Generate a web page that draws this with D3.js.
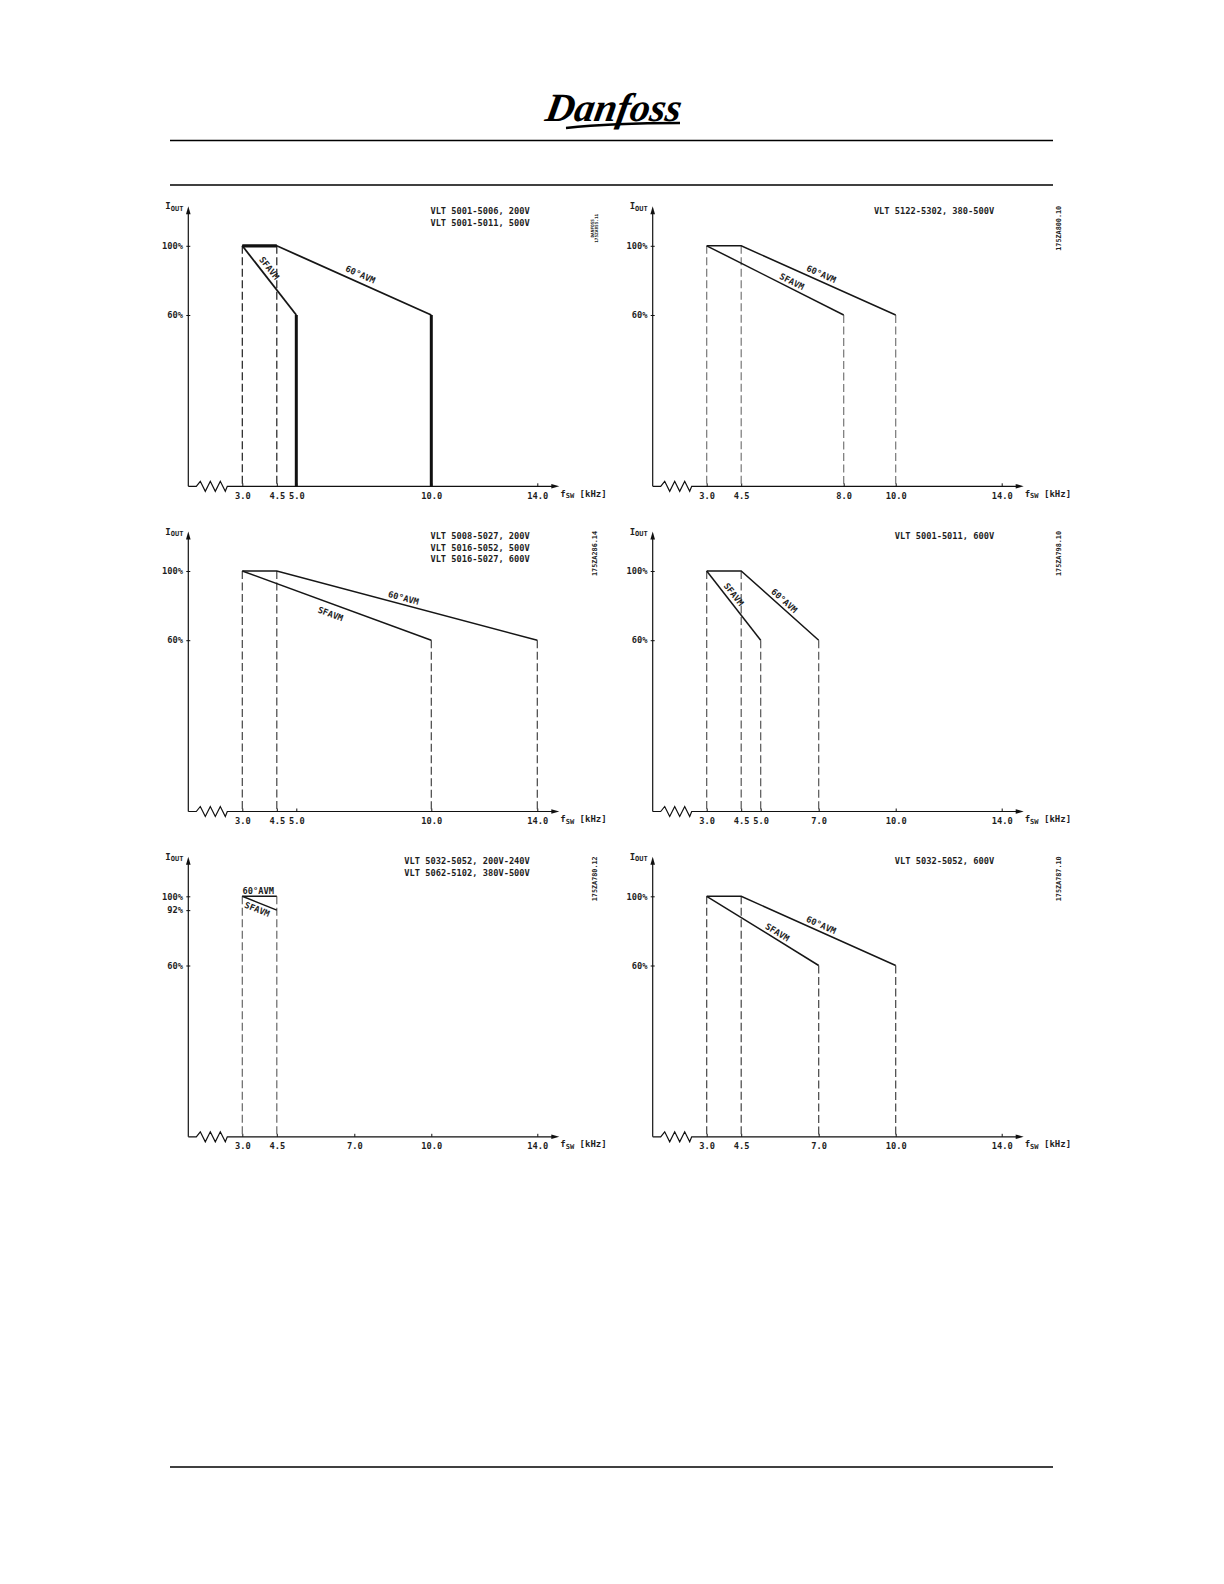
<!DOCTYPE html>
<html><head><meta charset="utf-8">
<script src="https://cdn.jsdelivr.net/npm/d3@7"></script>
<style>
body{margin:0;background:#fff;}
text{font-family:"DejaVu Sans Mono",monospace;fill:#1e1e1e;}
</style></head>
<body>
<script>
// ---------- DATA ----------
const panelTitles = [
  ["VLT 5001-5006, 200V", "VLT 5001-5011, 500V"],
  ["VLT 5122-5302, 380-500V"],
  ["VLT 5008-5027, 200V", "VLT 5016-5052, 500V", "VLT 5016-5027, 600V"],
  ["VLT 5001-5011, 600V"],
  ["VLT 5032-5052, 200V-240V", "VLT 5062-5102, 380V-500V"],
  ["VLT 5032-5052, 600V"]
];
const panelIds = [
  ["DANFOSS", "175ZA855.11"],
  ["175ZA800.10"],
  ["175ZA286.14"],
  ["175ZA798.10"],
  ["175ZA780.12"],
  ["175ZA787.10"]
];
const xTickValues = [
  [3.0, 4.5, 5.0, 10.0, 14.0],
  [3.0, 4.5, 8.0, 10.0, 14.0],
  [3.0, 4.5, 5.0, 10.0, 14.0],
  [3.0, 4.5, 5.0, 7.0, 10.0, 14.0],
  [3.0, 4.5, 7.0, 10.0, 14.0],
  [3.0, 4.5, 7.0, 10.0, 14.0]
];
const yTickValues = [
  [60, 100], [60, 100], [60, 100], [60, 100], [60, 92, 100], [60, 100]
];
// 60°AVM curves [fsw kHz, Iout %]
const avm60 = [
  [[3, 100], [4.5, 100], [10, 60]],
  [[3, 100], [4.5, 100], [10, 60]],
  [[3, 100], [4.5, 100], [14, 60]],
  [[3, 100], [4.5, 100], [7, 60]],
  [[3, 100], [4.5, 100]],
  [[3, 100], [4.5, 100], [10, 60]]
];
// SFAVM curves
const sfavm = [
  [[3, 100], [5, 60]],
  [[3, 100], [8, 60]],
  [[3, 100], [10, 60]],
  [[3, 100], [5, 60]],
  [[3, 100], [4.5, 92]],
  [[3, 100], [7, 60]]
];
const labelAvm = "60°AVM", labelSf = "SFAVM";
// schematic (broken) axis breakpoints
const xBreaks = [3, 4.5, 5, 7, 8, 10, 14];
const yBreaks = [0, 60, 100];

// ---------- LAYOUT ----------
const xPix = [54, 88.5, 108, 166, 191, 243, 349];
const yPix = [0, -171.3, -240.5];
const colX = [188.3, 652.7];
const rowY = [486.3, 811.5, 1136.8];
const titleGap = [12.3, 10, 11.7, 10, 11.7, 10];
// label placement: [segment index, fraction t, perpendicular offset]
const avmLabelPos = [[1, 0.52, 8], [1, 0.5, 7], [1, 0.48, 6.5], [1, 0.5, 6.5], [0, 0.46, 5], [1, 0.5, 6.5]];
const sfLabelPos  = [[0, 0.39, 7.5], [0, 0.6, 6.5], [0, 0.485, -10], [0, 0.4, 7], [0, 0.5, -6.5], [0, 0.6, 6.5]];
const dropColor = ["#1e1e1e", "#777", "#444", "#555", "#666", "#444"];

const W = 1224, H = 1584;
const svg = d3.select("body").append("svg").attr("width", W).attr("height", H);

// ---------- HEADER ----------
svg.append("text").attr("x", 612).attr("y", 121)
  .attr("text-anchor", "middle")
  .style("font-family", "'Liberation Serif', serif")
  .style("font-style", "italic").style("font-weight", "bold")
  .style("font-size", "40px").style("fill", "#000")
  .attr("transform", "skewX(-10) translate(21,0)")
  .text("Danfoss");
svg.append("path").attr("d", "M566,128 Q612,123 680,123").attr("stroke", "#000")
  .attr("stroke-width", 2.4).attr("fill", "none");
[140.5, 185, 1467].forEach(yy => {
  svg.append("line").attr("x1", 170).attr("x2", 1053).attr("y1", yy).attr("y2", yy)
    .attr("stroke", "#000").attr("stroke-width", 1.3);
});

// ---------- PANELS ----------
const x = d3.scaleLinear().domain(xBreaks).range(xPix);
const y = d3.scaleLinear().domain(yBreaks).range(yPix);
const line = d3.line().x(d => x(d[0])).y(d => y(d[1]));
const FS = 8.7;

function labelAt(g, pts, pos, txt) {
  const [si, t, off] = pos;
  const a = [x(pts[si][0]), y(pts[si][1])], b = [x(pts[si + 1][0]), y(pts[si + 1][1])];
  const dx = b[0] - a[0], dy = b[1] - a[1], len = Math.hypot(dx, dy);
  const nx = dy / len, ny = -dx / len;
  const px = a[0] + dx * t + nx * off, py = a[1] + dy * t + ny * off;
  const ang = Math.atan2(dy, dx) * 180 / Math.PI;
  g.append("text").attr("transform", `translate(${px},${py}) rotate(${ang})`)
    .attr("text-anchor", "middle").attr("dy", "0.35em")
    .style("font-size", FS + "px").style("font-weight", "bold").text(txt);
}

panelTitles.forEach((titles, i) => {
  const col = i % 2, row = Math.floor(i / 2);
  const g = svg.append("g").attr("transform", `translate(${colX[col]},${rowY[row]})`);

  // x axis line with break zigzag and arrow
  g.append("path")
    .attr("d", "M0,0H8L12,-5L17,5L22,-5L27,5L32,-5L37,5L39,0H365")
    .attr("fill", "none").attr("stroke", "#111").attr("stroke-width", 1.2);
  g.append("path").attr("d", "M371,0L363,-2.3L363,2.3Z").attr("fill", "#111");
  // y axis line and arrow
  g.append("line").attr("x1", 0).attr("x2", 0).attr("y1", 0).attr("y2", -273)
    .attr("stroke", "#111").attr("stroke-width", 1.2);
  g.append("path").attr("d", "M0,-280L-2.3,-272L2.3,-272Z").attr("fill", "#111");

  // x ticks
  const ax = g.append("g").call(d3.axisBottom(x).tickValues(xTickValues[i])
      .tickSize(-3).tickPadding(6.5).tickFormat(d3.format(".1f")));
  ax.select(".domain").remove();
  ax.selectAll("line").attr("stroke", "#111");
  ax.selectAll("text").style("font-size", FS + "px").style("font-weight", "bold")
    .style("font-family", "'DejaVu Sans Mono',monospace").attr("fill", "#1e1e1e");

  // y ticks
  const ay = g.append("g").call(d3.axisLeft(y).tickValues(yTickValues[i])
      .tickSizeInner(2).tickSizeOuter(0).tickPadding(3.3).tickFormat(d => d + "%"));
  ay.select(".domain").remove();
  ay.selectAll("line").attr("stroke", "#111").attr("x2", -2).attr("x1", 2);
  ay.selectAll("text").style("font-size", FS + "px").style("font-weight", "bold")
    .style("font-family", "'DejaVu Sans Mono',monospace").attr("fill", "#1e1e1e");

  // axis titles
  const it = g.append("text").attr("x", -23).attr("y", -277).style("font-size", "9px").style("font-weight", "bold");
  it.append("tspan").text("I");
  it.append("tspan").attr("dy", 1.5).style("font-size", "7px").text("OUT");
  const ft = g.append("text").attr("x", 372).attr("y", 10.5).style("font-size", "9px").style("font-weight", "bold");
  ft.append("tspan").text("f");
  ft.append("tspan").attr("dy", 1.5).style("font-size", "7px").text("SW");
  ft.append("tspan").attr("dy", -1.5).text(" [kHz]");

  // panel titles
  titles.forEach((t, k) => {
    g.append("text").attr("x", 341.5).attr("y", -275.5 + k * titleGap[i])
      .attr("dy", "0.35em").attr("text-anchor", "end")
      .style("font-size", FS + "px").style("font-weight", "bold").text(t);
  });

  // drawing ids (rotated)
  const ids = panelIds[i];
  ids.forEach((t, k) => {
    const n = ids.length;
    const fsz = n > 1 ? 4.4 : 6.8;
    g.append("text")
      .attr("transform", `translate(${406 + (k - (n - 1) / 2) * 4.6},${-258}) rotate(-90)`)
      .attr("text-anchor", "middle").attr("dy", "0.35em")
      .style("font-size", fsz + "px").style("font-weight", "bold").text(t);
  });

  // drop lines
  const solidDrops = (i === 0);
  const drops = [];
  drops.push(avm60[i][0]);
  drops.push(avm60[i][1]);
  [avm60[i], sfavm[i]].forEach(s => {
    const last = s[s.length - 1];
    if (!drops.some(d => d[0] === last[0])) drops.push(last);
  });
  drops.forEach(d => {
    const isEnd = !(d[0] === 3 || d[0] === 4.5);
    const ln = g.append("line").attr("x1", x(d[0])).attr("x2", x(d[0]))
      .attr("y1", y(d[1])).attr("y2", y(0));
    if (solidDrops && isEnd) {
      ln.attr("stroke", "#111").attr("stroke-width", 3);
    } else {
      ln.attr("stroke", dropColor[i]).attr("stroke-width", 1.2)
        .attr("stroke-dasharray", "8,3.5");
    }
  });

  // curves
  g.append("path").datum(avm60[i]).attr("d", line).attr("fill", "none")
    .attr("stroke", "#161616").attr("stroke-width", i === 0 ? 1.8 : 1.5);
  g.append("path").datum(sfavm[i]).attr("d", line).attr("fill", "none")
    .attr("stroke", "#161616").attr("stroke-width", i === 0 ? 1.8 : 1.5);
  if (i === 0) {
    g.append("path").datum(avm60[i].slice(0, 2)).attr("d", line).attr("fill", "none")
      .attr("stroke", "#111").attr("stroke-width", 3.2);
  }

  // curve labels
  labelAt(g, avm60[i], avmLabelPos[i], labelAvm);
  labelAt(g, sfavm[i], sfLabelPos[i], labelSf);
});
</script>
</body></html>
